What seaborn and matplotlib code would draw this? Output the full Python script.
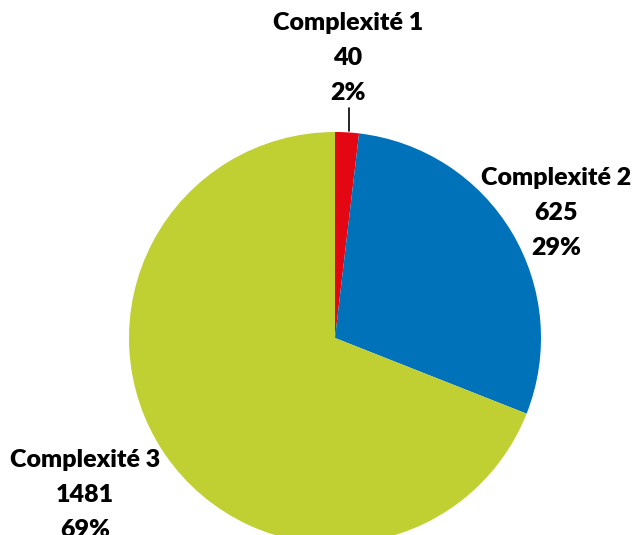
import matplotlib
matplotlib.use("Agg")
import matplotlib.pyplot as plt
import seaborn as sns

sns.set_theme(style="white")
plt.rcParams['font.family'] = ['Lato', 'DejaVu Sans']

categories = ["Complexité 1", "Complexité 2", "Complexité 3"]
values = [40, 625, 1481]
percents = [2, 29, 69]
colors = ["#E30613", "#0072BA", "#C0D032"]

W, H = 635, 535
fig = plt.figure(figsize=(W / 100, H / 100), dpi=100)
ax = fig.add_axes([0, 0, 1, 1])

cx, cy, r = 335, H - 338, 206
ax.pie(values, colors=colors, startangle=90, counterclock=False,
       center=(cx, cy), radius=r, frame=True,
       wedgeprops=dict(linewidth=0))
ax.set_xlim(0, W)
ax.set_ylim(0, H)
ax.set_aspect("equal")
ax.axis("off")

label_pos = [(348, H - 58), (556, H - 213), (85, H - 495)]
for (x, y), name, v, p in zip(label_pos, categories, values, percents):
    ax.text(x, y, f"{name}\n{v}\n{p}%", ha="center", va="center",
            fontsize=18, fontweight="heavy", color="black",
            linespacing=1.72)

# leader line for the small slice
ax.plot([349, 349], [H - 108, H - 131], color="black", linewidth=1.2)

fig.savefig("out.png", dpi=100)
